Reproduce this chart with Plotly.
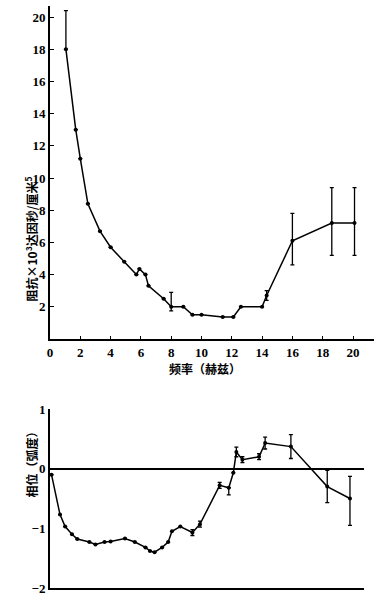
import plotly.graph_objects as go

# ---- Top panel: impedance modulus vs frequency ----
mod_freq = [1.05, 1.7, 2.0, 2.5, 3.3, 4.0, 4.9, 5.7, 5.9, 6.3, 6.5, 7.5, 8.0, 8.8,
            9.4, 10.0, 11.4, 12.1, 12.6, 14.0, 14.3, 16.0, 18.6, 20.1]
mod_val = [18.0, 13.0, 11.2, 8.4, 6.7, 5.7, 4.8, 4.0, 4.35, 4.0, 3.3, 2.5, 2.0, 2.0,
           1.5, 1.5, 1.37, 1.37, 2.0, 2.0, 2.7, 6.1, 7.2, 7.2]
mod_err_plus = [2.4, 0, 0, 0, 0, 0, 0, 0, 0, 0, 0, 0, 0.9, 0,
                0, 0, 0, 0, 0, 0, 0.3, 1.7, 2.2, 2.2]
mod_err_minus = [0, 0, 0, 0, 0, 0, 0, 0, 0, 0, 0, 0, 0.25, 0,
                 0, 0, 0, 0, 0, 0, 0.3, 1.5, 2.0, 2.0]

# ---- Bottom panel: phase vs frequency ----
ph_freq = [0.1, 0.66, 1.0, 1.45, 1.8, 2.6, 3.0, 3.6, 4.0, 4.95, 5.6, 6.3, 6.6, 6.9,
           7.4, 7.8, 8.05, 8.6, 9.4, 9.9, 11.2, 11.8, 12.1, 12.3, 12.7, 13.8, 14.2,
           15.9, 18.3, 19.8]
ph_val = [-0.1, -0.77, -0.97, -1.1, -1.18, -1.23, -1.27, -1.23, -1.22, -1.17, -1.23,
          -1.32, -1.38, -1.4, -1.32, -1.23, -1.05, -0.97, -1.07, -0.93, -0.28, -0.32,
          -0.07, 0.28, 0.15, 0.2, 0.43, 0.37, -0.3, -0.5]
ph_err_plus = [0, 0, 0, 0, 0, 0, 0, 0, 0, 0, 0, 0, 0, 0,
               0, 0, 0, 0, 0.05, 0.05, 0.05, 0, 0, 0.08, 0.05, 0.05, 0.1,
               0.2, 0.27, 0.37]
ph_err_minus = [0, 0, 0, 0, 0, 0, 0, 0, 0, 0, 0, 0, 0, 0,
                0, 0, 0, 0, 0.05, 0.05, 0.05, 0.12, 0, 0.08, 0.05, 0.05, 0.1,
                0.2, 0.27, 0.45]

x_ticks = [0, 2, 4, 6, 8, 10, 12, 14, 16, 18, 20]
x_tick_text = ["0", "2", "4", "6", "8", "10", "12", "14", "16", "18", "20"]
mod_ticks = [2, 4, 6, 8, 10, 12, 14, 16, 18, 20]
ph_ticks = [1, 0, -1, -2]
ph_tick_text = ["1", "0", "−1", "−2"]

W, H = 374, 595
px_per_unit = 15.15
x0 = 50
tick_font = dict(family="Liberation Serif", size=13, color="black", weight="bold")
cjk = "Noto Sans CJK SC"

fig = go.Figure()
fig.add_trace(go.Scatter(
    x=mod_freq, y=mod_val, mode="lines+markers",
    line=dict(color="black", width=1.5),
    marker=dict(color="black", size=4),
    error_y=dict(type="data", symmetric=False, array=mod_err_plus,
                 arrayminus=mod_err_minus, color="black", thickness=1.3, width=2),
    xaxis="x", yaxis="y", showlegend=False, cliponaxis=False))
fig.add_trace(go.Scatter(
    x=ph_freq, y=ph_val, mode="lines+markers",
    line=dict(color="black", width=1.5),
    marker=dict(color="black", size=4),
    error_y=dict(type="data", symmetric=False, array=ph_err_plus,
                 arrayminus=ph_err_minus, color="black", thickness=1.3, width=2),
    xaxis="x2", yaxis="y2", showlegend=False, cliponaxis=False))

top_bot, top_top = 339, 6
top_range = [0, (top_bot - top_top) / 16.1]
bot_one, bot_m2 = 409, 588

fig.update_layout(
    width=W, height=H, margin=dict(l=0, r=0, t=0, b=0, autoexpand=False),
    paper_bgcolor="white", plot_bgcolor="white",
    xaxis=dict(domain=[x0 / W, 1], range=[0, (W - x0) / px_per_unit],
               anchor="y", tickvals=x_ticks, ticktext=x_tick_text,
               showline=True, linecolor="black", linewidth=2,
               ticks="inside", ticklen=3, tickcolor="black", automargin=False,
               ticklabeloverflow="allow",
               showgrid=False, zeroline=False, tickfont=tick_font),
    yaxis=dict(domain=[(H - top_bot) / H, (H - top_top) / H], range=top_range,
               anchor="x", tickvals=mod_ticks, automargin=False,
               ticklabeloverflow="allow",
               showline=True, linecolor="black", linewidth=2,
               ticks="inside", ticklen=4, tickcolor="black",
               showgrid=False, zeroline=False, tickfont=tick_font),
    xaxis2=dict(domain=[x0 / W, 364 / W], range=[0, (364 - x0) / px_per_unit],
                anchor="y2", showticklabels=False, automargin=False,
                showline=True, linecolor="black", linewidth=2,
                ticks="", showgrid=False, zeroline=False),
    yaxis2=dict(domain=[(H - bot_m2) / H, (H - bot_one) / H], range=[-2, 1],
                anchor="x2", tickvals=ph_ticks, ticktext=ph_tick_text,
                showline=True, linecolor="black", linewidth=2, automargin=False,
                ticklabeloverflow="allow",
                ticks="", showgrid=False,
                zeroline=True, zerolinecolor="black", zerolinewidth=1.5,
                tickfont=tick_font),
    annotations=[
        dict(text="阻抗×10³达因秒/厘米<sup>5</sup>", x=20 / W, y=(H - 175) / H,
             xref="paper", yref="paper", textangle=-90, showarrow=False,
             font=dict(family=cjk, size=12, color="black", weight="bold")),
        dict(text="频率（赫兹）", x=205 / W, y=(H - 368) / H,
             xref="paper", yref="paper", showarrow=False,
             font=dict(family=cjk, size=12, color="black", weight="bold")),
        dict(text="相位（弧度）", x=20 / W, y=(H - 500) / H,
             xref="paper", yref="paper", textangle=-90, showarrow=False,
             font=dict(family=cjk, size=12, color="black", weight="bold")),
    ],
)

fig.write_html("out.html", config={"displayModeBar": False},
               post_script="document.body.style.margin='0';document.body.style.overflow='hidden';")
